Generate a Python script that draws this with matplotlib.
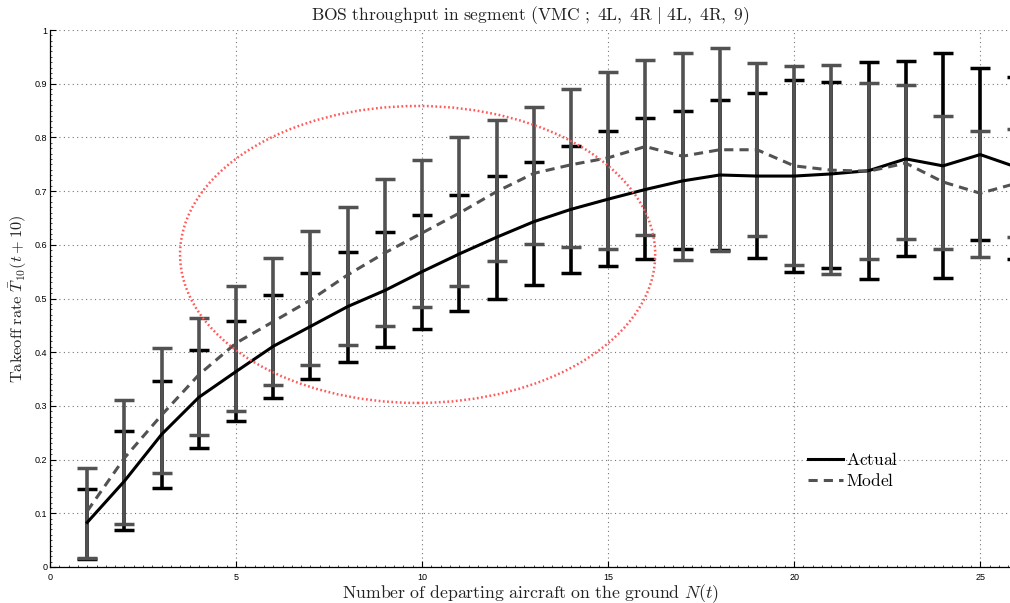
import matplotlib
matplotlib.use("Agg")
import matplotlib.pyplot as plt
from matplotlib.patches import Ellipse
from matplotlib.ticker import MultipleLocator
import numpy as np

plt.rcParams["mathtext.fontset"] = "cm"

# departing aircraft on the ground
n = np.arange(1, 27)

# takeoff rate, measured
actual = [0.083, 0.160, 0.247, 0.316, 0.364, 0.411, 0.448, 0.485, 0.515, 0.550,
          0.583, 0.614, 0.643, 0.666, 0.685, 0.703, 0.719, 0.730, 0.728, 0.728,
          0.732, 0.738, 0.760, 0.747, 0.768, 0.744]
actual_lo = [0.015, 0.069, 0.147, 0.222, 0.271, 0.314, 0.350, 0.382, 0.410, 0.444,
             0.476, 0.500, 0.526, 0.547, 0.561, 0.573, 0.592, 0.590, 0.575, 0.549,
             0.557, 0.536, 0.579, 0.539, 0.609, 0.573]
actual_hi = [0.146, 0.253, 0.346, 0.405, 0.458, 0.506, 0.547, 0.586, 0.624, 0.655,
             0.692, 0.729, 0.755, 0.784, 0.811, 0.836, 0.849, 0.870, 0.882, 0.906,
             0.904, 0.940, 0.942, 0.958, 0.929, 0.912]

# takeoff rate, model
model = [0.104, 0.203, 0.283, 0.358, 0.417, 0.457, 0.497, 0.544, 0.585, 0.622,
         0.659, 0.699, 0.733, 0.749, 0.762, 0.783, 0.765, 0.777, 0.777, 0.747,
         0.739, 0.737, 0.752, 0.717, 0.696, 0.715]
model_lo = [0.017, 0.081, 0.175, 0.246, 0.291, 0.339, 0.376, 0.413, 0.448, 0.485,
            0.524, 0.570, 0.601, 0.595, 0.593, 0.618, 0.572, 0.589, 0.616, 0.562,
            0.546, 0.574, 0.611, 0.593, 0.578, 0.614]
model_hi = [0.185, 0.311, 0.408, 0.463, 0.524, 0.576, 0.626, 0.671, 0.722, 0.758,
            0.801, 0.832, 0.857, 0.891, 0.922, 0.944, 0.958, 0.967, 0.938, 0.933,
            0.935, 0.901, 0.897, 0.840, 0.812, 0.815]

yticks = [0, 0.1, 0.2, 0.3, 0.4, 0.5, 0.6, 0.7, 0.8, 0.9, 1]
ytick_labels = ["0", "0.1", "0.2", "0.3", "0.4", "0.5", "0.6", "0.7", "0.8", "0.9", "1"]
xticks = [0, 5, 10, 15, 20, 25]

actual = np.array(actual)
model = np.array(model)
gray = "#525252"

fig = plt.figure(figsize=(10.1, 6.03), dpi=100)
ax = fig.add_axes([50 / 1010, 36 / 603, 960 / 1010, 537 / 603])

ax.errorbar(n, actual, yerr=[actual - np.array(actual_lo), np.array(actual_hi) - actual],
            fmt="none", ecolor="black", elinewidth=2.6, capsize=7.2, capthick=2.5, zorder=2)
ax.errorbar(n, model, yerr=[model - np.array(model_lo), np.array(model_hi) - model],
            fmt="none", ecolor=gray, elinewidth=2.6, capsize=7.2, capthick=2.5, zorder=3)
ax.plot(n, actual, color="black", lw=2.2, label=r"$\mathrm{Actual}$", zorder=4)
ax.plot(n, model, color=gray, lw=2.2, ls=(0, (3, 2)), label=r"$\mathrm{Model}$", zorder=4)

# highlighted region
ax.add_patch(Ellipse((9.88, 0.582), 12.77, 0.553, fill=False, ec="#ff5a5a",
                     lw=1.8, ls=(0, (0.7, 1.0)), zorder=5))

ax.set_xlim(0, 25.8)
ax.set_ylim(0, 1)
ax.set_xticks(xticks)
ax.set_xticklabels([str(v) for v in xticks])
ax.set_yticks(yticks)
ax.set_yticklabels(ytick_labels)
ax.xaxis.set_minor_locator(MultipleLocator(0.25))
ax.yaxis.set_minor_locator(MultipleLocator(0.01))
ax.tick_params(which="major", direction="in", length=4, width=0.8, labelsize=6.5, pad=2)
ax.tick_params(axis="x", which="major", pad=4)
ax.tick_params(which="minor", direction="in", length=1.5, width=0.5)
for lab in ax.get_xticklabels() + ax.get_yticklabels():
    lab.set_family("Liberation Sans")

for side in ["top", "right"]:
    ax.spines[side].set_visible(False)
ax.spines["left"].set_linewidth(0.9)
ax.spines["bottom"].set_linewidth(0.9)
ax.grid(True, which="major", ls=(0, (1, 3)), color="#777777", lw=0.8)
ax.set_axisbelow(True)

ax.set_title(r"$\mathrm{BOS\ throughput\ in\ segment\ (VMC\ ;\ 4L,\ 4R\ |\ 4L,\ 4R,\ 9)}$",
             fontsize=12.6, color="#222222", pad=7)
ax.set_xlabel(r"$\mathrm{Number\ of\ departing\ aircraft\ on\ the\ ground}\ N(t)$",
              fontsize=12.8, color="#222222", labelpad=0.5)
ax.set_ylabel(r"$\mathrm{Takeoff\ rate}\ \bar{T}_{10}(t+10)$",
              fontsize=11.8, color="#222222", labelpad=4)

ax.legend(loc="center left", bbox_to_anchor=(0.79, 0.18), frameon=False,
          fontsize=12.5, handlelength=2.0, handletextpad=0.15, labelspacing=0.2,
          borderpad=0, borderaxespad=0)

fig.savefig("out.png", dpi=100)
